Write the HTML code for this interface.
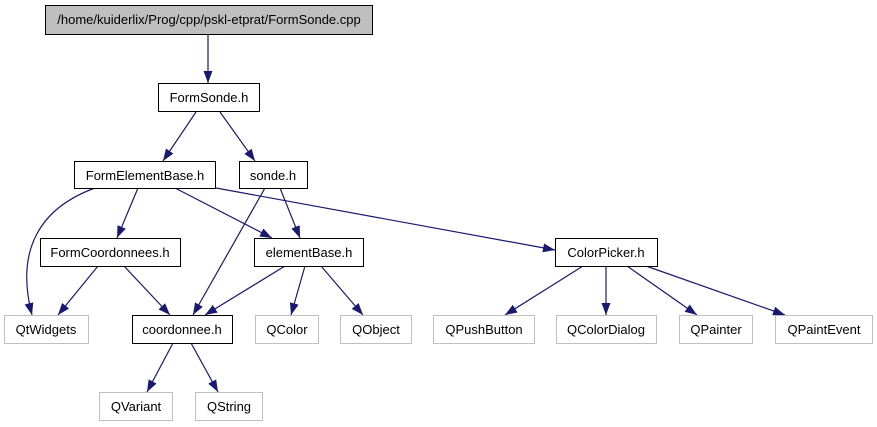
<!DOCTYPE html>
<html><head><meta charset="utf-8"><style>
html,body{margin:0;padding:0;background:#fff;}
svg{display:block;}
text{font-family:"Liberation Sans",Helvetica,sans-serif;font-size:13px;fill:#000;text-anchor:middle;}
</style></head><body>
<svg width="877" height="427" viewBox="0 0 877 427" xmlns="http://www.w3.org/2000/svg">
<defs>
<marker id="a" markerWidth="12" markerHeight="9" refX="12" refY="4.5" orient="auto" markerUnits="userSpaceOnUse">
<polygon points="0,0 12,4.5 0,9" fill="#191970"/>
</marker>
</defs>
<g stroke="#191970" stroke-width="1.2" fill="none" marker-end="url(#a)">
<path d="M208,35 L208,83"/>
<path d="M196,112 L163,161"/>
<path d="M220,112 L255,161"/>
<path d="M95,188 C40,208 15,250 32,315"/>
<path d="M138,188 L117,238"/>
<path d="M175,188 L272,238"/>
<path d="M216,188 L555,250"/>
<path d="M265,188 L193,315"/>
<path d="M280,188 L300,238"/>
<path d="M98,266 L58,315"/>
<path d="M124,266 L170,315"/>
<path d="M285,266 L205,315"/>
<path d="M305,266 L291,315"/>
<path d="M321,266 L363,315"/>
<path d="M173,343 L147,392"/>
<path d="M191,343 L218,392"/>
<path d="M583,266 L505,315"/>
<path d="M606,266 L606,315"/>
<path d="M627,266 L697,315"/>
<path d="M646,266 L785,315"/>
</g>
<g stroke-width="1">
<rect x="45.5" y="5.5" width="327" height="29" fill="#bfbfbf" stroke="#000"/>
<rect x="158.5" y="83.5" width="101" height="28" fill="#fff" stroke="#000"/>
<rect x="74.5" y="161.5" width="141" height="27" fill="#fff" stroke="#000"/>
<rect x="239.5" y="161.5" width="68" height="27" fill="#fff" stroke="#000"/>
<rect x="40.5" y="238.5" width="140" height="28" fill="#fff" stroke="#000"/>
<rect x="254.5" y="238.5" width="109" height="28" fill="#fff" stroke="#000"/>
<rect x="555.5" y="238.5" width="102" height="28" fill="#fff" stroke="#000"/>
<rect x="132.5" y="315.5" width="100" height="28" fill="#fff" stroke="#000"/>
<rect x="4.5" y="315.5" width="84" height="28" fill="#fff" stroke="#bfbfbf"/>
<rect x="255.5" y="315.5" width="63" height="28" fill="#fff" stroke="#bfbfbf"/>
<rect x="340.5" y="315.5" width="71" height="28" fill="#fff" stroke="#bfbfbf"/>
<rect x="433.5" y="315.5" width="101" height="28" fill="#fff" stroke="#bfbfbf"/>
<rect x="556.5" y="315.5" width="100" height="28" fill="#fff" stroke="#bfbfbf"/>
<rect x="679.5" y="315.5" width="73" height="28" fill="#fff" stroke="#bfbfbf"/>
<rect x="775.5" y="315.5" width="97" height="28" fill="#fff" stroke="#bfbfbf"/>
<rect x="99.5" y="392.5" width="73" height="28" fill="#fff" stroke="#bfbfbf"/>
<rect x="195.5" y="392.5" width="67" height="28" fill="#fff" stroke="#bfbfbf"/>
</g>
<text x="209" y="24">/home/kuiderlix/Prog/cpp/pskl-etprat/FormSonde.cpp</text>
<text x="209" y="102">FormSonde.h</text>
<text x="145" y="180">FormElementBase.h</text>
<text x="273" y="180">sonde.h</text>
<text x="110" y="257">FormCoordonnees.h</text>
<text x="309" y="257">elementBase.h</text>
<text x="606" y="257">ColorPicker.h</text>
<text x="46" y="334">QtWidgets</text>
<text x="182" y="334">coordonnee.h</text>
<text x="287" y="334">QColor</text>
<text x="376" y="334">QObject</text>
<text x="484" y="334">QPushButton</text>
<text x="606" y="334">QColorDialog</text>
<text x="716" y="334">QPainter</text>
<text x="824" y="334">QPaintEvent</text>
<text x="136" y="411">QVariant</text>
<text x="229" y="411">QString</text>
</svg>
</body></html>
